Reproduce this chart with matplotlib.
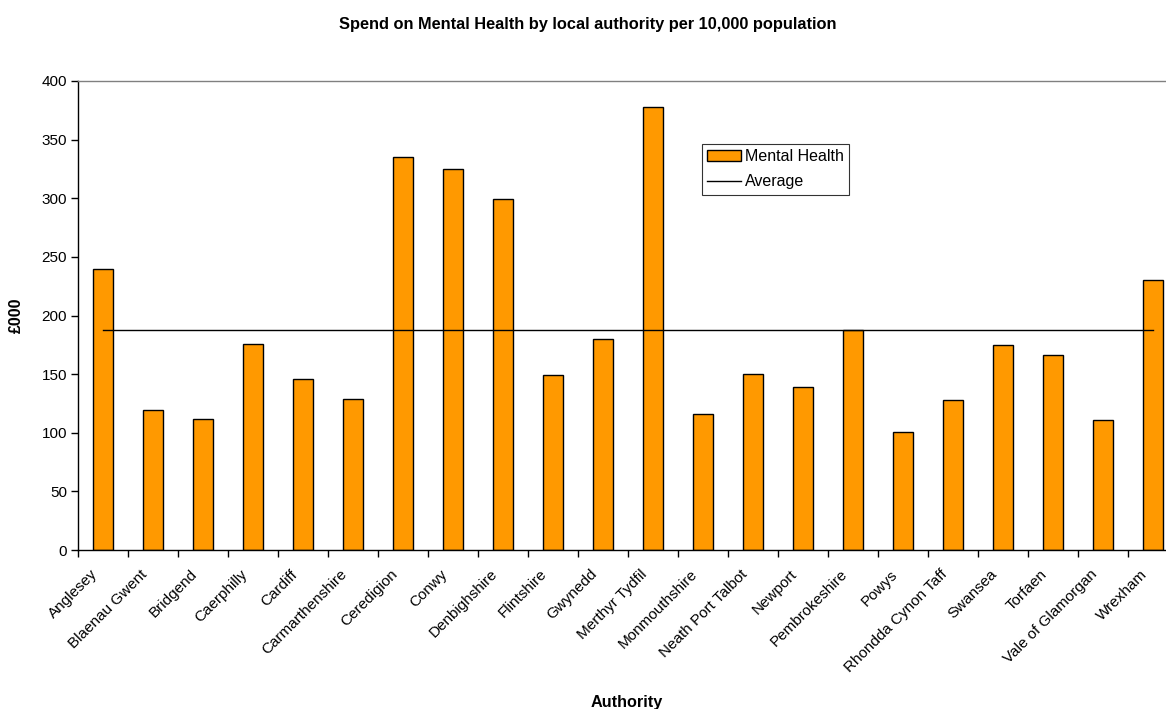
import matplotlib
matplotlib.use("Agg")
import matplotlib.pyplot as plt
import matplotlib.transforms as mtransforms
import numpy as np

plt.rcParams['font.family'] = ['Liberation Sans', 'DejaVu Sans']

authorities = ["Anglesey", "Blaenau Gwent", "Bridgend", "Caerphilly", "Cardiff",
               "Carmarthenshire", "Ceredigion", "Conwy", "Denbighshire", "Flintshire",
               "Gwynedd", "Merthyr Tydfil", "Monmouthshire", "Neath Port Talbot",
               "Newport", "Pembrokeshire", "Powys", "Rhondda Cynon Taff", "Swansea",
               "Torfaen", "Vale of Glamorgan", "Wrexham"]
mental_health = [240, 119, 112, 176, 146, 129, 335, 325, 299, 149, 180, 378,
                 116, 150, 139, 188, 101, 128, 175, 166, 111, 230]
average = 187.5
y_ticks = [0, 50, 100, 150, 200, 250, 300, 350, 400]

W, H = 1166, 709
fig = plt.figure(figsize=(W / 100, H / 100), dpi=100)
ax = fig.add_axes([78 / W, (H - 550) / H, 1100 / W, 469 / H])

x = np.arange(len(authorities))
bars = ax.bar(x, mental_health, width=0.4, color="#FF9900", edgecolor="black",
              linewidth=1.0, label="Mental Health", zorder=2)
avg_line, = ax.plot([x[0], x[-1]], [average, average], color="black",
                    linewidth=1.0, label="Average", zorder=3)

ax.set_xlim(-0.5, len(authorities) - 0.5)
ax.set_ylim(0, 400)
ax.set_yticks(y_ticks)
ax.set_yticklabels([str(v) for v in y_ticks], fontsize=11)

# category boundaries carry the tick marks; names are placed under each bar
ax.set_xticks(np.arange(len(authorities) + 1) - 0.5)
ax.set_xticklabels([])
ax.tick_params(axis="x", length=5, width=1, direction="out")
ax.tick_params(axis="y", length=5, width=1, direction="out", pad=3)

shift = mtransforms.ScaledTranslation(-0.08, -0.22, fig.dpi_scale_trans)
for xi, name in zip(x, authorities):
    ax.text(xi, 0, name, transform=ax.get_xaxis_transform() + shift,
            rotation=45, ha="right", va="center", rotation_mode="anchor",
            fontsize=11, clip_on=False)

for s in ["left", "bottom"]:
    ax.spines[s].set_color("black")
    ax.spines[s].set_linewidth(1.0)
for s in ["top", "right"]:
    ax.spines[s].set_color("#808080")
    ax.spines[s].set_linewidth(1.0)

leg = ax.legend([bars, avg_line], ["Mental Health", "Average"],
                loc="upper left", bbox_to_anchor=(0.567, 0.866), fontsize=11.5,
                frameon=True, fancybox=False, edgecolor="black",
                handlelength=2.1, handleheight=0.65, borderpad=0.35,
                labelspacing=0.62, handletextpad=0.25, borderaxespad=0)
leg.get_frame().set_linewidth(0.8)

fig.text(588 / W, 1 - 25 / H, "Spend on Mental Health by local authority per 10,000 population",
         ha="center", va="center", fontsize=11.8, fontweight="bold")
fig.text(627 / W, 1 - 703 / H, "Authority", ha="center", va="center",
         fontsize=11.7, fontweight="bold")
fig.text(16 / W, 1 - 315 / H, "£000", ha="center", va="center", rotation=90,
         fontsize=11.5, fontweight="bold")

fig.savefig("out.png", dpi=100)
